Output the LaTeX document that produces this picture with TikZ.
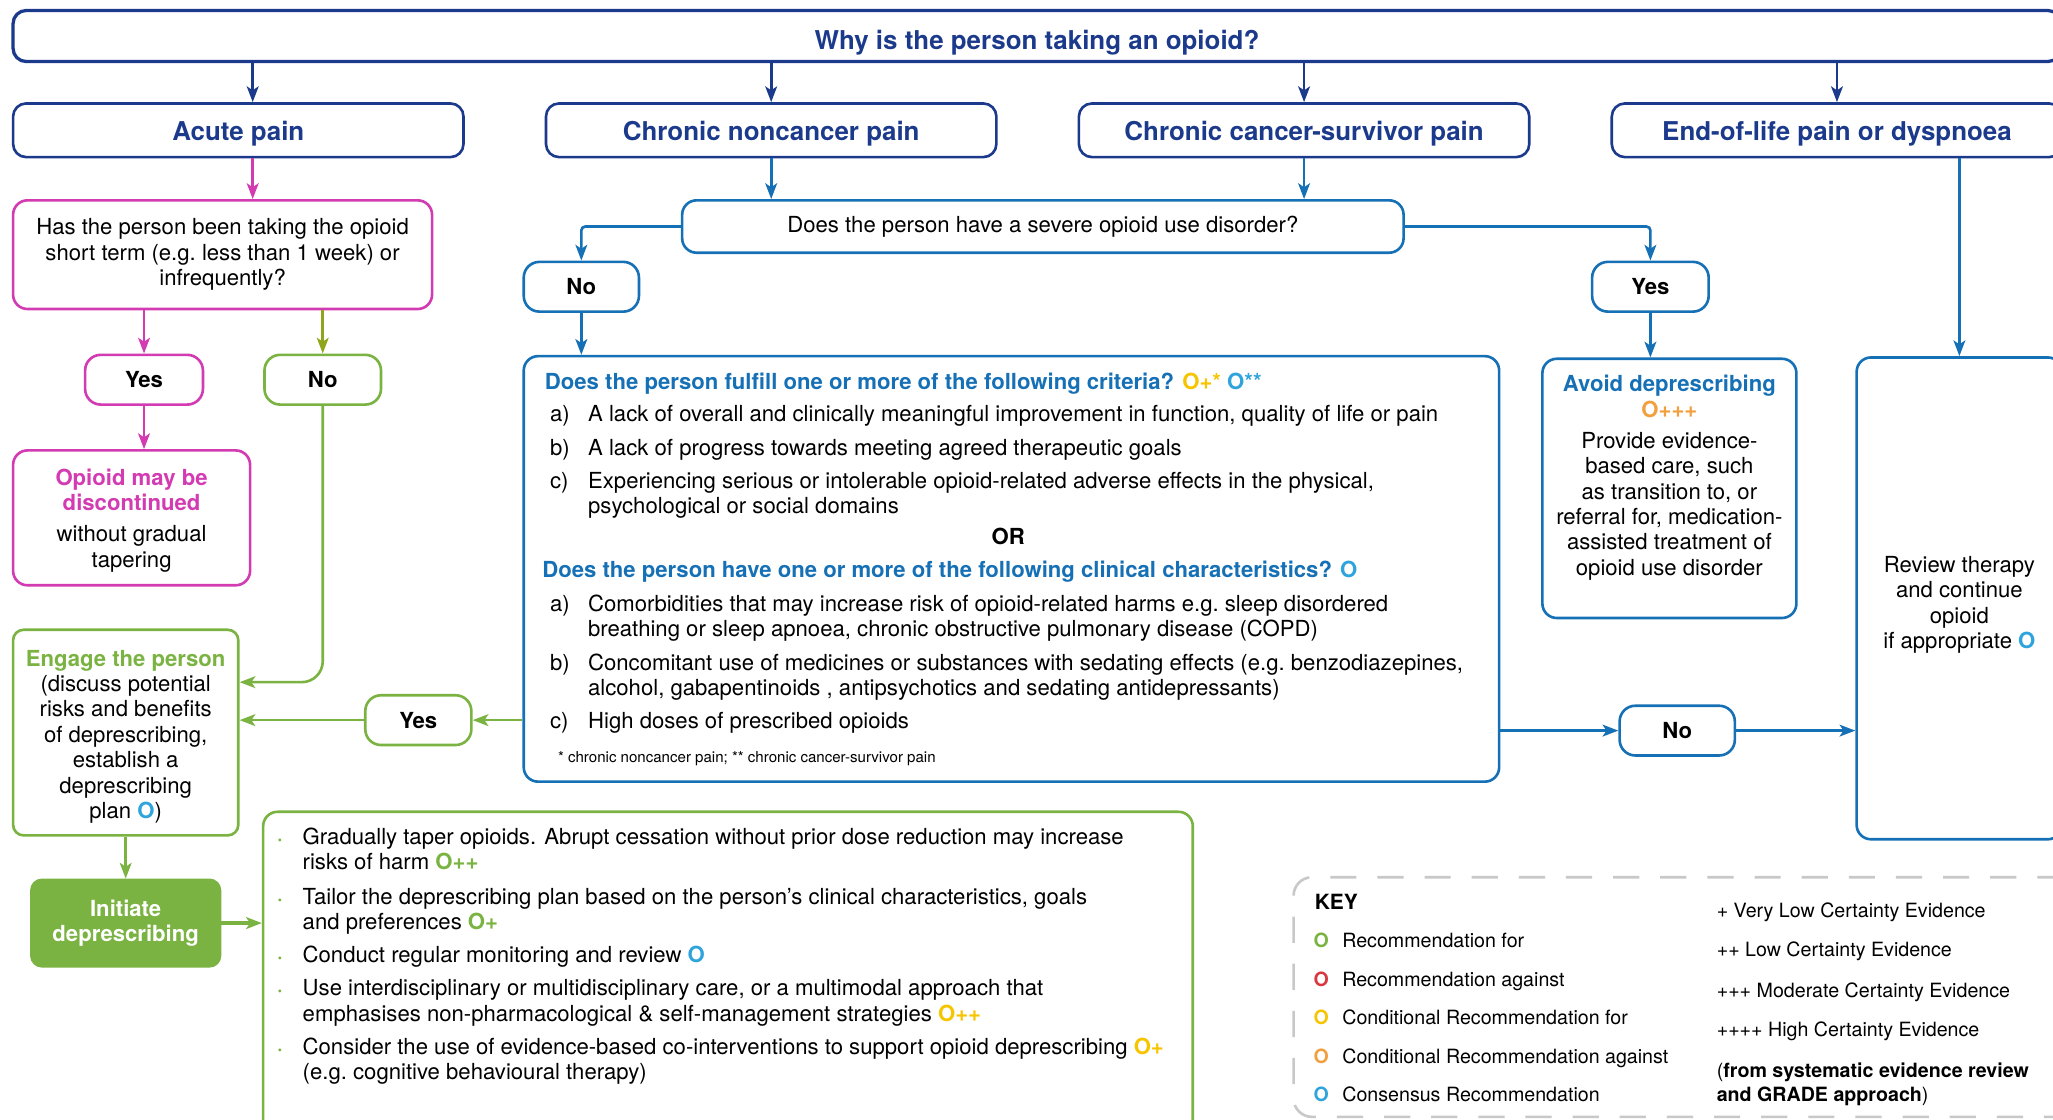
\documentclass[tikz,border=0pt]{standalone}
\usepackage{fontspec}
\setmainfont{TeX Gyre Heros}
\usetikzlibrary{arrows.meta,calc,positioning}

\definecolor{navy}{HTML}{1C3A8C}
\definecolor{midblue}{HTML}{1570B5}
\definecolor{recBlue}{HTML}{2EA3DC}
\definecolor{opPink}{HTML}{D23BB2}
\definecolor{opGreen}{HTML}{7AB342}
\definecolor{opOlive}{HTML}{8FA51C}
\definecolor{opYellow}{HTML}{F7C400}
\definecolor{opOrange}{HTML}{F2A03F}
\definecolor{recRed}{HTML}{D8373F}
\definecolor{keyGray}{HTML}{C8C8C8}

\newcommand{\bodyfont}{\fontsize{16.9}{19.4}\selectfont}
\newcommand{\catfont}{\bfseries\fontsize{19.8}{23}\selectfont}
\newcommand{\keyfont}{\fontsize{15}{18}\selectfont}
\newcommand{\rec}[2]{\textcolor{#1}{\textbf{O#2}}}

\tikzset{
  flowbox/.style={draw, line width=2pt, rounded corners=11pt, align=center, inner sep=0pt, font=\bodyfont},
  catbox/.style={flowbox, draw=navy, text=navy, rounded corners=10pt, minimum width=344pt, minimum height=41pt, text height=16pt, text depth=0pt, font=\catfont},
  ansbox/.style={flowbox, rounded corners=12pt, minimum width=89pt, minimum height=38pt, font=\bodyfont\bfseries},
  txt/.style={anchor=mid west, inner sep=0pt, yshift=-3.5pt, font=\bodyfont},
  keytxt/.style={anchor=mid west, inner sep=0pt, yshift=-3pt, font=\keyfont},
  arr/.style={line width=2pt, -{Stealth[length=12pt,width=9pt,inset=3pt]}},
  navyarr/.style={arr, draw=navy},
  bluearr/.style={arr, draw=midblue},
  pinkarr/.style={arr, draw=opPink},
  greenarr/.style={arr, draw=opGreen},
}

\begin{document}
\begin{tikzpicture}[x=1pt,y=-1pt]
\useasboundingbox (0,0) rectangle (1568,855);
\clip (0,0) rectangle (1568,855);

% top question and the four kinds of pain
\node[flowbox, draw=navy, text=navy, rounded corners=10pt, line width=2.5pt, minimum width=1564pt, minimum height=39pt, text height=20pt, text depth=0pt, font=\catfont] (why) at (792,27.5) {Why is the person taking an opioid?};
\node[catbox] (acute) at (182,99.5) {Acute pain};
\node[catbox] (noncancer) at (589,99.5) {Chronic noncancer pain};
\node[catbox] (survivor) at (996,99.5) {Chronic cancer-survivor pain};
\node[catbox] (endlife) at (1403,99.5) {End-of-life pain or dyspnoea};

\coordinate (acute-out) at ($(acute.south)+(11,0)$);
\draw[navyarr] (why.south -| acute-out) -- (acute.north -| acute-out);
\foreach \n in {noncancer,survivor,endlife}
  \draw[navyarr] (why.south -| \n.north) -- (\n.north);

% acute pain branch
\node[flowbox, draw=opPink, minimum width=320pt, minimum height=83pt] (short) at (170,194.5) {Has the person been taking the opioid\\short term (e.g.\ less than 1 week) or\\infrequently?};
\draw[pinkarr] (acute-out) -- (short.north -| acute-out);
\node[ansbox, draw=opPink, minimum width=90pt] (yes-a) at (110,290) {Yes};
\node[ansbox, draw=opGreen] (no-a) at (246.5,290) {No};
\draw[pinkarr] (short.south -| yes-a) -- (yes-a.north);
\draw[arr, draw=opOlive] (short.south -| no-a) -- (no-a.north);
\node[flowbox, draw=opPink, minimum width=181pt, minimum height=103pt] (stop) at (100.5,395.5) {\rule{0pt}{16.5pt}\textcolor{opPink}{\bfseries Opioid may be}\\\textcolor{opPink}{\bfseries discontinued}\\[4.5pt]without gradual\\tapering};
\draw[pinkarr] (yes-a.south) -- (stop.north -| yes-a.south);

\node[flowbox, draw=opGreen, rounded corners=8pt, minimum width=172pt, minimum height=157pt] (engage) at (96,559.5) {\rule{0pt}{18.5pt}\textcolor{opGreen}{\bfseries Engage the person}\\(discuss potential\\risks and benefits\\of deprescribing,\\establish a\\deprescribing\\plan \rec{recBlue}{})};
\coordinate (engage-in) at ($(engage.north east)+(0,41)$);
\draw[greenarr, rounded corners=16pt] (no-a.south) |- (engage-in);

\node[flowbox, draw=opGreen, fill=opGreen, text=white, rounded corners=8pt, minimum width=144pt, minimum height=66pt, font=\bodyfont\bfseries] (initiate) at (96,705) {Initiate\\deprescribing};
\draw[greenarr] (engage.south) -- (initiate.north);

\node[flowbox, draw=opGreen, minimum width=710pt, minimum height=260pt] (steps) at (556,750) {};
\draw[greenarr, line width=3pt] (initiate.east) -- (steps.west |- initiate.east);
\foreach \y in {639,685,729,754,799}
  \node[txt, text=opGreen, font=\fontsize{9}{11}\selectfont] (dot-\y) at (212,\y) {\textbullet};
\foreach \y/\t in {639/{Gradually taper opioids. Abrupt cessation without prior dose reduction may increase},
  658/{risks of harm \rec{opGreen}{++}},
  685/{Tailor the deprescribing plan based on the person’s clinical characteristics, goals},
  704/{and preferences \rec{opGreen}{+}},
  729/{Conduct regular monitoring and review \rec{recBlue}{}},
  754/{Use interdisciplinary or multidisciplinary care, or a multimodal approach that},
  774/{emphasises non-pharmacological \& self-management strategies \rec{opYellow}{++}},
  799/{Consider the use of evidence-based co-interventions to support opioid deprescribing \rec{opYellow}{+}},
  818/{(e.g.\ cognitive behavioural therapy)}}
  \node[txt] (step-\y) at (231,\y) {\t};

% chronic pain branches
\node[flowbox, draw=midblue, minimum width=551pt, minimum height=40pt] (severe) at (796.5,173) {Does the person have a severe opioid use disorder?};
\draw[bluearr] (noncancer.south) -- (severe.north -| noncancer.south);
\draw[bluearr] (survivor.south) -- (severe.north -| survivor.south);
\node[ansbox, draw=midblue, minimum width=88pt] (no-b) at (444,219) {No};
\node[ansbox, draw=midblue] (yes-b) at (1260.5,219) {Yes};
\draw[bluearr, rounded corners=3pt] (severe.west) -| (no-b.north);
\draw[bluearr, rounded corners=3pt] (severe.east) -| (yes-b.north);

\node[flowbox, draw=midblue, minimum width=745pt, minimum height=325pt] (crit) at (772.5,434.5) {};
\draw[bluearr] (no-b.south) -- (crit.north -| no-b.south);
\node[txt, font=\bodyfont\bfseries, text=midblue] (crit-q1) at (416,291) {Does the person fulfill one or more of the following criteria? \textcolor{opYellow}{O+*} \textcolor{recBlue}{O**}};
\node[txt, anchor=mid, font=\bodyfont\bfseries] (crit-or) at (770,410) {OR};
\node[txt, font=\bodyfont\bfseries, text=midblue] (crit-q2) at (414,435) {Does the person have one or more of the following clinical characteristics? \textcolor{recBlue}{O}};
\foreach \y/\l in {316/a, 342/b, 367/c, 461/a, 506/b, 550/c}
  \node[txt] (item-\y) at (420,\y) {\l)};
\foreach \y/\t in {316/{A lack of overall and clinically meaningful improvement in function, quality of life or pain},
  342/{A lack of progress towards meeting agreed therapeutic goals},
  367/{Experiencing serious or intolerable opioid-related adverse effects in the physical,},
  386/{psychological or social domains},
  461/{Comorbidities that may increase risk of opioid-related harms e.g.\ sleep disordered},
  480/{breathing or sleep apnoea, chronic obstructive pulmonary disease (COPD)},
  506/{Concomitant use of medicines or substances with sedating effects (e.g.\ benzodiazepines,},
  525/{alcohol, gabapentinoids , antipsychotics and sedating antidepressants)},
  550/{High doses of prescribed opioids}}
  \node[txt] (line-\y) at (449,\y) {\t};
\node[txt, yshift=1.5pt, font=\fontsize{11.5}{14}\selectfont] (crit-note) at (426,578) {* chronic noncancer pain; ** chronic cancer-survivor pain};

\node[ansbox, draw=opGreen, minimum width=81pt] (yes-c) at (319.5,550) {Yes};
\draw[greenarr] (crit.west |- yes-c) -- (yes-c.east);
\draw[greenarr] (yes-c.west) -- (engage.east |- yes-c);

\node[flowbox, draw=midblue, minimum width=194pt, minimum height=198pt] (avoid) at (1275,373) {\parbox[c][173pt][t]{190pt}{\centering\textcolor{midblue}{\bfseries Avoid deprescribing}\\\textcolor{opOrange}{\bfseries O+++}\\[4.5pt]Provide evidence-\\based care, such\\as transition to, or\\referral for, medication-\\assisted treatment of\\opioid use disorder}};
\draw[bluearr] (yes-b.south) -- (avoid.north -| yes-b.south);

% end-of-life branch
\node[flowbox, draw=midblue, minimum width=157pt, minimum height=368pt] (review) at (1496.5,457) {\rule{0pt}{22pt}Review therapy\\and continue\\opioid\\if appropriate \rec{recBlue}{}};
\draw[bluearr] (endlife.south -| review.north) -- (review.north);
\node[ansbox, draw=midblue, minimum width=88pt] (no-c) at (1281,558) {No};
\draw[bluearr] (crit.east |- no-c) -- (no-c.west);
\draw[bluearr] (no-c.east) -- (review.west |- no-c);

% key
\node[draw=keyGray, line width=2pt, dash pattern=on 20pt off 16pt, rounded corners=14pt, minimum width=602pt, minimum height=183pt, inner sep=0pt] (key) at (1289,761.5) {};
\node[keytxt, font=\bfseries\fontsize{16}{19}\selectfont] (key-title) at (1004,689) {KEY};
\foreach \y/\c/\t in {718/opGreen/Recommendation for, 748/recRed/Recommendation against, 777/opYellow/Conditional Recommendation for, 807/opOrange/Conditional Recommendation against, 836/recBlue/Consensus Recommendation} {
  \node[keytxt] (mark-\y) at (1003,\y) {\rec{\c}{}};
  \node[keytxt] (kind-\y) at (1025,\y) {\t};
}
\foreach \y/\t in {695/+ Very Low Certainty Evidence, 725/++ Low Certainty Evidence, 756/+++ Moderate Certainty Evidence, 786/++++ High Certainty Evidence}
  \node[keytxt] (grade-\y) at (1311,\y) {\t};
\node[keytxt] (grade-src1) at (1311,817) {(\textbf{from systematic evidence review}};
\node[keytxt] (grade-src2) at (1311,836) {\textbf{and GRADE approach})};
\end{tikzpicture}
\end{document}
